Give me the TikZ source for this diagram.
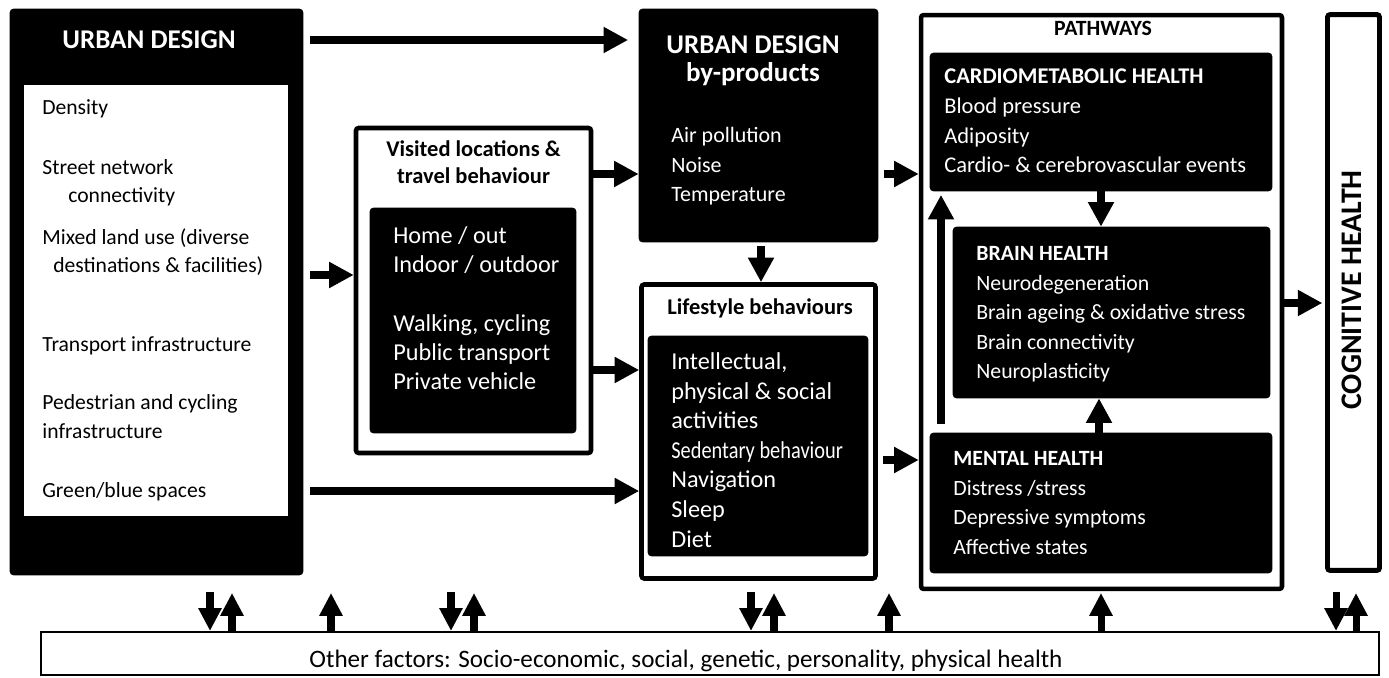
\documentclass[tikz,border=0pt]{standalone}
\usepackage{fontspec}
\usepackage{graphicx}
\setmainfont{Carlito}
\usetikzlibrary{positioning,arrows.meta}

\tikzset{
  blackbox/.style={fill=black, draw=black, rounded corners=2pt, inner sep=0pt},
  framebox/.style={draw=black, fill=white, line width=2.6pt, rounded corners=1.5pt, inner sep=0pt},
  wtext/.style={text=white, align=left, inner sep=0pt, anchor=base west},
  arr/.style={line width=5pt, -{Triangle[length=14pt,width=14pt]}},
  arrs/.style={line width=4pt, -{Triangle[length=13pt,width=12.5pt]}},
}

\begin{document}
\begin{tikzpicture}[x=0.02cm, y=-0.02cm]
\useasboundingbox (0,0) rectangle (1389,678);

                % Urban design
                \node[blackbox, minimum width=5.86cm, minimum height=11.32cm] (ud) at (156.5,292) {};
                \node[fill=white, inner sep=0pt, minimum width=5.28cm, minimum height=8.62cm] (udin) at (156,300.5) {};
                \node[text=white, font=\fontsize{15.4}{19}\selectfont\bfseries, anchor=base] (udtitle) at (149,49) {URBAN DESIGN};
                \foreach \yy/\xx/\lbl in {115/42/Density, 175/42/Street network, 203/68/connectivity,
                    245/42/{Mixed land use (diverse}, 273/53/{destinations \& facilities)},
                    352/42/Transport infrastructure, 410/42/Pedestrian and cycling,
                    439/42/infrastructure, 498/42/{Green/blue spaces}}
                  \node[anchor=base west, inner sep=0pt, font=\fontsize{12.3}{15}\selectfont] (ud\yy) at (\xx,\yy) {\lbl};

                % Visited locations (base = last line)
                \node[framebox, minimum width=4.7cm, minimum height=6.5cm] (vis) at (473.5,290.5) {};
                \node[font=\fontsize{12.8}{15.4}\selectfont\bfseries, align=center, anchor=base] (vistitle) at (473.5,184) {Visited locations \&\\travel behaviour};
                \node[blackbox, minimum width=4.12cm, minimum height=4.5cm] (visin) at (473,320.5) {};
                \node[wtext, font=\fontsize{13.8}{16.7}\selectfont] (vislist) at (393,390) {Home / out\\Indoor / outdoor\\[16.7pt]Walking, cycling\\Public transport\\Private vehicle};

                % By-products
                \node[blackbox, minimum width=4.78cm, minimum height=4.66cm] (byp) at (758.5,125.5) {};
                \node[text=white, font=\fontsize{15.4}{16}\selectfont\bfseries, align=center, anchor=base] (byptitle) at (753,82) {URBAN DESIGN\\by-products};
                \node[wtext, font=\fontsize{12.5}{17}\selectfont] (byplist) at (671,202) {Air pollution\\Noise\\Temperature};

                % Lifestyle
                \node[framebox, minimum width=4.68cm, minimum height=5.88cm] (life) at (758.5,431.5) {};
                \node[font=\fontsize{12.8}{15}\selectfont\bfseries, anchor=base] (lifetitle) at (760,315) {Lifestyle behaviours};
                \node[blackbox, minimum width=4.4cm, minimum height=4.4cm] (lifein) at (758,446) {};
                \node[wtext, font=\fontsize{13.8}{16.8}\selectfont] (lifelist) at (671,547) {Intellectual,\\physical \& social\\activities\\\scalebox{0.84}[1]{Sedentary behaviour}\\Navigation\\Sleep\\Diet};

                % Pathways
                \node[framebox, minimum width=7.22cm, minimum height=11.48cm] (path) at (1101.5,302) {};
                \node[font=\fontsize{12.4}{15}\selectfont\bfseries, anchor=base] (pathtitle) at (1103,36) {PATHWAYS};
                \node[blackbox, minimum width=6.84cm, minimum height=2.76cm] (cardio) at (1101,122) {};
                \node[wtext, font=\fontsize{12.8}{17}\selectfont] (cardiolist) at (944,173) {\textbf{CARDIOMETABOLIC HEALTH}\\Blood pressure\\Adiposity\\Cardio- \& cerebrovascular events};
                \node[blackbox, minimum width=6.34cm, minimum height=3.42cm] (brain) at (1111.5,312.5) {};
                \node[wtext, font=\fontsize{12.4}{16.8}\selectfont] (brainlist) at (976,379) {\textbf{BRAIN HEALTH}\\Neurodegeneration\\Brain ageing \& oxidative stress\\Brain connectivity\\Neuroplasticity};
                \node[blackbox, minimum width=6.84cm, minimum height=2.8cm] (mental) at (1101,503) {};
                \node[wtext, font=\fontsize{12.4}{16.7}\selectfont] (mentallist) at (953,554) {\textbf{MENTAL HEALTH}\\Distress /stress\\Depressive symptoms\\Affective states};

                % Cognitive health
                \node[framebox, line width=2.8pt, minimum width=1.04cm, minimum height=11.12cm] (cog) at (1353.5,292.5) {};
                \node[rotate=90, inner sep=0pt, font=\fontsize{17}{20}\selectfont\bfseries] (cogtitle) at (1352,290) {COGNITIVE HEALTH};

                % Other factors
                \node[draw=black, line width=1.2pt, inner sep=0pt, minimum width=26.76cm, minimum height=0.86cm] (oth) at (710,653.5) {};
                \node[font=\fontsize{14.3}{17}\selectfont, anchor=base] (othtext) at (686,667) {Other factors: Socio-economic, social, genetic, personality, physical health};

                % Arrows
                \draw[arr, shorten <=4pt, shorten >=6pt] (ud.east |- 0,40) -- (byp.west |- 0,40);
                \draw[arr, shorten <=4pt] (ud.east |- 0,275) -- (vis.west |- 0,275);
                \draw[arr, shorten <=4pt] (ud.east |- 0,491) -- (life.west |- 0,491);
                \draw[arr] (vis.east |- 0,174) -- (byp.west |- 0,174);
                \draw[arr] (vis.east |- 0,370) -- (life.west |- 0,370);
                \draw[arr, shorten <=2pt] (byp.south -| 761,0) -- (life.north -| 761,0);
                \draw[arr, shorten <=3pt] (byp.east |- 0,174) -- (path.west |- 0,174);
                \draw[arr, shorten <=3pt] (life.east |- 0,460) -- (path.west |- 0,460);
                \draw[arr] (cardio.south) -- (brain.north -| cardio.south);
                \draw[arr] (mental.north -| 1099,0) -- (brain.south -| 1099,0);
                \draw[arr, shorten <=5pt, shorten >=2pt] (mental.north -| 941,0) -- (cardio.south -| 941,0);
                \draw[arr, shorten >=1.5pt] (path.east |- 0,303) -- (cog.west |- 0,303);

                \foreach \xx in {210,451,751,1336}
                  \draw[arrs] (\xx,592) -- (oth.north -| \xx,0);
                \foreach \xx in {232,331,474,774,889,1101,1356}
                  \draw[arrs] (oth.north -| \xx,0) -- ++(0,-38);

\end{tikzpicture}
\end{document}
